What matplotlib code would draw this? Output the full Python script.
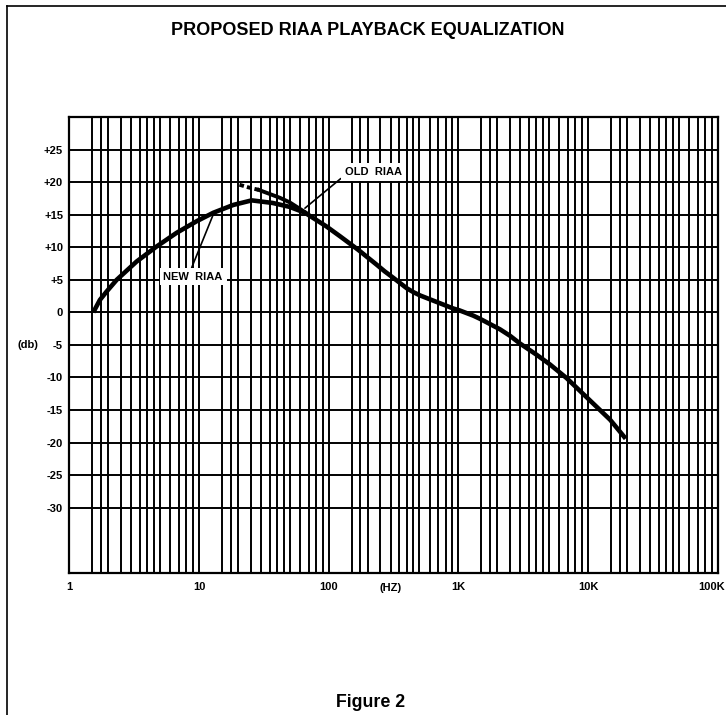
import matplotlib
matplotlib.use('Agg')
import matplotlib.pyplot as plt
from matplotlib.lines import Line2D
import matplotlib.transforms as mtransforms

plt.rcParams['font.family'] = ['Liberation Sans', 'DejaVu Sans']
plt.rcParams['font.weight'] = 'bold'

# curves (Hz, dB)
new_freq = [1.53, 1.72, 1.94, 2.32, 3.3, 4.7, 6.7, 9.6, 12.9, 18.4, 25.5, 37, 50, 65.6,
            96, 122, 169, 235, 270, 315, 355, 400, 450, 506, 640, 720, 910, 1020,
            1300, 1470, 2090, 2500, 2990, 4000, 5080, 6830, 10300, 14800, 19500]
new_db = [0, 1.9, 3.2, 5.0, 7.8, 10.1, 12.2, 14.0, 15.3, 16.5, 17.2, 16.8, 16.2, 15.3,
          13.2, 11.7, 9.6, 7.3, 6.3, 5.3, 4.5, 3.7, 3.1, 2.6, 1.8, 1.4, 0.6, 0.3,
          -0.5, -1.0, -2.6, -3.6, -4.8, -6.5, -8.0, -10.1, -13.5, -16.5, -19.4]

old_dash_freq = [20.5, 24, 29]
old_dash_db = [19.6, 19.2, 18.8]
old_freq = [29, 42, 50, 65.6]
old_db = [18.8, 17.6, 16.9, 15.4]

x_major = [1, 10, 100, 1000, 10000, 100000]
x_labels = ['1', '10', '100', '1K', '10K', '100K']
grid_steps = [1.5, 1.75, 2, 2.5, 3, 3.5, 4, 4.5, 5, 6, 7, 8, 9]
y_ticks = [25, 20, 15, 10, 5, 0, -5, -10, -15, -20, -25, -30]
y_labels = ['+25', '+20', '+15', '+10', '+5', '0', '-5', '-10', '-15', '-20', '-25', '-30']

fig = plt.figure(figsize=(7.26, 7.15), dpi=100)
ax = fig.add_axes([0.0955, 0.199, 0.8931, 0.6373])
ax.set_xscale('log')
ax.set_xlim(1, 1e5)
ax.set_ylim(-40, 30)

x_minor = [d * s for d in x_major[:-1] for s in grid_steps]
ax.set_xticks(x_major, x_labels)
ax.set_xticks(x_minor, minor=True)
ax.set_xticklabels([], minor=True)
ax.set_yticks(y_ticks, y_labels)
ax.tick_params(which='both', length=0)
ax.tick_params(axis='x', pad=7, labelsize=8)
ax.tick_params(axis='y', pad=4.5, labelsize=8)
ax.grid(which='both', color='black', lw=1.4)
ax.set_axisbelow(True)
for s in ax.spines.values():
    s.set_linewidth(1.6)

# keep the last label inside the page
last = ax.get_xticklabels()[-1]
last.set_transform(last.get_transform() +
                   mtransforms.ScaledTranslation(-6 / 100, 0, fig.dpi_scale_trans))

ax.plot(new_freq, new_db, color='black', lw=3.3, solid_capstyle='butt',
        solid_joinstyle='round', zorder=4)
ax.plot(old_dash_freq, old_dash_db, color='black', lw=2.8, ls=(0, (1.2, 0.8)), zorder=4)
ax.plot(old_freq, old_db, color='black', lw=2.8, solid_joinstyle='round', zorder=4)

box = dict(boxstyle='square,pad=0.35', fc='white', ec='none')
ax.annotate('NEW  RIAA', xy=(13.1, 15.4), xytext=(9.0, 5.5), ha='center', va='center',
            fontsize=8, bbox=box, zorder=5,
            arrowprops=dict(arrowstyle='-', lw=1.2, color='black', relpos=(0.45, 1),
                            shrinkA=0, shrinkB=0))
ax.annotate('OLD  RIAA', xy=(65.6, 16.0), xytext=(220, 21.5), ha='center', va='center',
            fontsize=8, bbox=box, zorder=5,
            arrowprops=dict(arrowstyle='-', lw=1.2, color='black', relpos=(0, 0.2),
                            shrinkA=0, shrinkB=0))

ax.text(-0.064, -5, '(db)', transform=ax.get_yaxis_transform(), ha='center',
        va='center', fontsize=8)
ax.text(300, -0.022, '(HZ)', transform=ax.get_xaxis_transform(), ha='center',
        va='top', fontsize=8)

fig.text(0.507, 0.958, 'PROPOSED RIAA PLAYBACK EQUALIZATION', ha='center', va='center',
         fontsize=13, fontweight='bold')
fig.text(0.51, 0.017, 'Figure 2', ha='center', va='center', fontsize=12.8,
         fontweight='bold')

# page border
fig.add_artist(Line2D([0.0096, 0.0096], [0, 0.9916], color='black', lw=1.2))
fig.add_artist(Line2D([0.0096, 1], [0.9916, 0.9916], color='black', lw=1.2))

fig.savefig('out.png', dpi=100)
